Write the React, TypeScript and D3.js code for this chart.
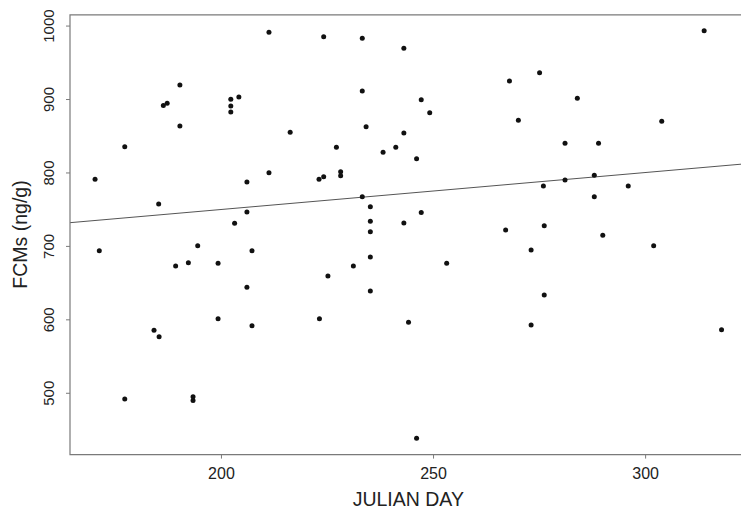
import React from "react";
import * as d3 from "d3";

const julianDay = [
  170.2, 171.2, 177.2, 185.2, 186.3, 187.2, 190.2, 190.2, 194.4, 202.2,
  202.2, 202.2, 204.1, 203.1, 206.0, 206.0, 189.2, 192.2, 199.2, 206.0,
  199.2, 184.1, 185.3, 177.2, 193.3, 193.3, 211.2, 224.1, 233.2, 243.0,
  233.2, 247.1, 249.1, 216.2, 234.1, 243.0, 227.1, 238.1, 241.1, 246.0,
  211.2, 223.0, 224.1, 228.1, 228.1, 233.2, 235.1, 247.1, 235.1, 243.0,
  235.1, 207.2, 235.1, 231.1, 225.1, 253.1, 235.1, 207.2, 223.1, 244.1,
  246.0, 313.8, 275.0, 267.9, 283.9, 270.0, 303.8, 281.0, 288.9, 281.0,
  287.9, 275.9, 295.9, 287.9, 267.0, 276.1, 289.9, 273.0, 301.9, 276.1,
  273.0, 317.9,
];
const fcm = [
  791.4, 694.2, 835.7, 757.7, 892.0, 894.8, 919.8, 864.0, 701.0, 900.3,
  891.2, 883.0, 903.4, 731.4, 787.7, 746.8, 673.3, 677.8, 677.0, 644.3,
  601.6, 585.8, 577.1, 492.2, 495.4, 490.0, 991.5, 985.5, 983.3, 969.7,
  911.6, 899.7, 882.0, 855.3, 863.0, 854.4, 835.0, 828.1, 835.0, 819.4,
  800.3, 791.4, 794.9, 801.7, 796.2, 767.7, 754.0, 746.0, 734.2, 731.9,
  720.0, 694.2, 685.6, 673.3, 659.7, 677.0, 639.3, 592.0, 601.6, 596.7,
  438.7, 993.7, 936.5, 925.2, 901.6, 871.7, 870.3, 840.4, 840.4, 790.4,
  796.8, 782.2, 782.2, 767.7, 722.3, 728.2, 715.1, 695.1, 701.0, 633.8,
  593.0, 586.6,
];
const xTicks = [200, 250, 300];
const yTicks = [500, 600, 700, 800, 900, 1000];
const fitIntercept = 649.6;
const fitSlope = 0.5034;
const xTitle = "JULIAN DAY";
const yTitle = "FCMs (ng/g)";

const W = 741;
const H = 511;
const left = 70;
const right = 746.6;
const top = 14.4;
const bottom = 454.6;
const font = "'Liberation Sans', Arial, sans-serif";

function padExtent(vals: number[]): [number, number] {
  const [a, b] = d3.extent(vals) as [number, number];
  const p = (b - a) * 0.04;
  return [a - p, b + p];
}

export default function App() {
  const xDom = padExtent(julianDay);
  const yDom = padExtent(fcm);
  const x = d3.scaleLinear().domain(xDom).range([left, right]);
  const y = d3.scaleLinear().domain(yDom).range([bottom, top]);
  const boxColor = "#7a7a7a";
  const textColor = "#222";
  const fit = (d: number) => fitIntercept + fitSlope * d;

  return (
    <svg
      width={W}
      height={H}
      style={{ position: "absolute", left: 0, top: 0, background: "#fff" }}
    >
      <rect x={0} y={0} width={W} height={H} fill="#fff" />
      <path
        d={`M${x(xDom[0])},${y(fit(xDom[0]))}L${x(xDom[1])},${y(fit(xDom[1]))}`}
        stroke="#555"
        strokeWidth={1}
        fill="none"
      />
      {julianDay.map((d, i) => (
        <circle key={i} cx={x(d)} cy={y(fcm[i])} r={2.5} fill="#111" />
      ))}
      <path
        d={`M${right + 20},${top + 0.5}H${left}V${bottom}H${right + 20}`}
        fill="none"
        stroke={boxColor}
        strokeWidth={1.2}
      />
      {xTicks.map((t) => (
        <g key={t}>
          <line x1={x(t)} x2={x(t)} y1={bottom} y2={bottom + 4} stroke={boxColor} />
          <text
            x={x(t)}
            y={479}
            textAnchor="middle"
            fontFamily={font}
            fontSize={16}
            fill={textColor}
          >
            {t}
          </text>
        </g>
      ))}
      {yTicks.map((t) => (
        <g key={t}>
          <line x1={left - 4} x2={left} y1={y(t)} y2={y(t)} stroke={boxColor} />
          <text
            transform={`translate(54,${y(t)}) rotate(-90)`}
            textAnchor="middle"
            fontFamily={font}
            fontSize={15}
            fill={textColor}
          >
            {t}
          </text>
        </g>
      ))}
      <text
        x={(left + right) / 2}
        y={505.5}
        textAnchor="middle"
        fontFamily={font}
        fontSize={19.5}
        fill={textColor}
      >
        {xTitle}
      </text>
      <text
        transform={`translate(27,${(top + bottom) / 2}) rotate(-90)`}
        textAnchor="middle"
        fontFamily={font}
        fontSize={19.5}
        fill={textColor}
      >
        {yTitle}
      </text>
    </svg>
  );
}
